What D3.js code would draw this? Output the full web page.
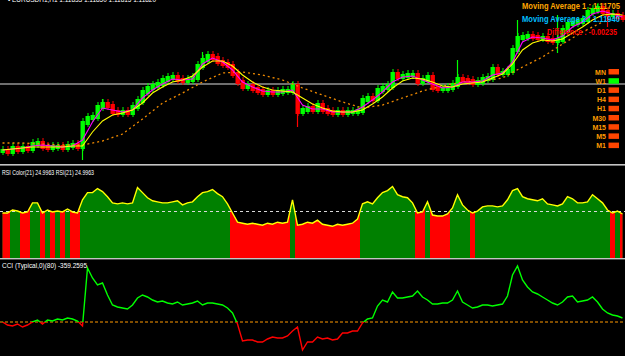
<!DOCTYPE html>
<html>
<head>
<meta charset="utf-8">
<script src="https://cdn.jsdelivr.net/npm/d3@7"></script>
<style>
    html, body { margin: 0; padding: 0; background: #000; overflow: hidden; }
    svg { display: block; }
    text { font-family: "Liberation Sans", Arial, sans-serif; }
</style>
</head>
<body>
<svg id="chart" width="625" height="356"></svg>
<script>
// closing price of each bar
var closes = [
    1.0948, 1.0946, 1.0954, 1.0950, 1.0954, 1.0952, 1.0962, 1.0964, 1.0956, 1.0954,
    1.0956, 1.0956, 1.0954, 1.0958, 1.0960, 1.0956, 1.1004, 1.1014, 1.1016, 1.1036,
    1.1042, 1.1038, 1.1026, 1.1024, 1.1026, 1.1024, 1.1036, 1.1048, 1.1066, 1.1074,
    1.1078, 1.1082, 1.1090, 1.1094, 1.1096, 1.1090, 1.1088, 1.1090, 1.1094, 1.1118,
    1.1130, 1.1138, 1.1134, 1.1126, 1.1122, 1.1118, 1.1102, 1.1086, 1.1076, 1.1078,
    1.1072, 1.1068, 1.1064, 1.1066, 1.1064, 1.1066, 1.1068, 1.1068, 1.1078, 1.1026,
    1.1030, 1.1034, 1.1030, 1.1040, 1.1030, 1.1026, 1.1024, 1.1026, 1.1024, 1.1026,
    1.1026, 1.1028, 1.1050, 1.1054, 1.1052, 1.1070, 1.1074, 1.1078, 1.1102, 1.1096,
    1.1098, 1.1100, 1.1100, 1.1086, 1.1090, 1.1096, 1.1074, 1.1072, 1.1072, 1.1074,
    1.1080, 1.1092, 1.1090, 1.1088, 1.1084, 1.1086, 1.1092, 1.1094, 1.1112, 1.1104,
    1.1104, 1.1108, 1.1150, 1.1174, 1.1176, 1.1178, 1.1176, 1.1174, 1.1174, 1.1170,
    1.1168, 1.1170, 1.1190, 1.1202, 1.1204, 1.1206, 1.1210, 1.1226, 1.1230, 1.1234,
    1.1226, 1.1220, 1.1220, 1.1216, 1.1214
];

// long wicks: [bar, price]
var spikes = [
    [16, 1.0930], [20, 1.1052], [40, 1.1146], [58, 1.1086], [59, 1.0996],
    [91, 1.1130], [103, 1.1210], [111, 1.1220], [111, 1.1144], [119, 1.1242], [121, 1.1196]
];

// moving averages (fast / slow every 2 bars, long every 4 bars)
var fastMa = [
    1.0950, 1.0952, 1.0954, 1.0958, 1.0960, 1.0958, 1.0956, 1.0958, 1.0970, 1.1006,
    1.1034, 1.1030, 1.1026, 1.1030, 1.1054, 1.1070, 1.1082, 1.1092, 1.1090, 1.1092,
    1.1122, 1.1134, 1.1126, 1.1110, 1.1086, 1.1076, 1.1068, 1.1066, 1.1066, 1.1070,
    1.1040, 1.1032, 1.1032, 1.1026, 1.1026, 1.1026, 1.1036, 1.1050, 1.1066, 1.1086,
    1.1096, 1.1098, 1.1090, 1.1082, 1.1074, 1.1076, 1.1086, 1.1086, 1.1088, 1.1100,
    1.1104, 1.1126, 1.1166, 1.1176, 1.1174, 1.1170, 1.1178, 1.1196, 1.1206, 1.1222,
    1.1228, 1.1222, 1.1216
];
var slowMa = [
    1.0950, 1.0952, 1.0954, 1.0956, 1.0956, 1.0956, 1.0956, 1.0958, 1.0958, 1.0986,
    1.1008, 1.1020, 1.1024, 1.1030, 1.1044, 1.1064, 1.1076, 1.1086, 1.1090, 1.1098,
    1.1116, 1.1128, 1.1128, 1.1118, 1.1100, 1.1086, 1.1076, 1.1070, 1.1068, 1.1066,
    1.1054, 1.1042, 1.1034, 1.1028, 1.1026, 1.1026, 1.1030, 1.1042, 1.1056, 1.1074,
    1.1088, 1.1094, 1.1092, 1.1086, 1.1078, 1.1076, 1.1082, 1.1084, 1.1086, 1.1094,
    1.1102, 1.1122, 1.1150, 1.1164, 1.1170, 1.1168, 1.1172, 1.1184, 1.1196, 1.1210,
    1.1220, 1.1222, 1.1220
];
var longMa = [
    1.0964, 1.0964, 1.0962, 1.0960, 1.0960, 1.0968, 1.0982, 1.1012, 1.1044, 1.1064,
    1.1086, 1.1104, 1.1106, 1.1100, 1.1090, 1.1074, 1.1060, 1.1046, 1.1034, 1.1040,
    1.1054, 1.1068, 1.1078, 1.1086, 1.1088, 1.1094, 1.1116, 1.1136, 1.1162, 1.1186,
    1.1206, 1.1220
];
var priceLevel = 1.1082;

var rsiValues = [
    48.4, 48.4, 51.6, 50.5, 48.4, 49.5, 59.3, 59.3, 48.4, 51.6,
    49.5, 50.5, 49.5, 52.7, 49.5, 48.4, 62.6, 70.3, 70.3, 74.7,
    71.4, 65.9, 59.3, 58.2, 59.3, 58.2, 59.3, 75.8, 70.3, 64.8,
    61.5, 60.4, 59.3, 59.3, 60.4, 61.5, 57.1, 59.3, 60.4, 65.9,
    70.3, 71.4, 73.6, 69.2, 65.9, 58.2, 48.4, 38.5, 37.4, 36.3,
    37.4, 36.3, 35.2, 37.4, 36.3, 38.5, 37.4, 38.5, 62.6, 35.2,
    36.3, 38.5, 37.4, 40.7, 36.3, 35.2, 34.1, 36.3, 35.2, 36.3,
    37.4, 41.8, 58.2, 60.4, 58.2, 64.8, 70.3, 72.5, 76.9, 68.1,
    65.9, 64.8, 59.3, 48.4, 49.5, 60.4, 46.2, 45.1, 45.1, 47.3,
    53.9, 68.1, 57.1, 51.6, 48.4, 50.5, 55.0, 56.0, 56.0, 55.0,
    56.0, 62.6, 72.5, 74.7, 65.9, 63.7, 62.6, 61.5, 63.7, 58.2,
    57.1, 56.0, 58.2, 65.9, 63.7, 59.3, 59.3, 60.4, 68.1, 63.7,
    59.3, 51.6, 48.4, 50.5, 47.3
];
var rsiLevel = 50;

var cciValues = [
    0, -15, -20, -10, -25, -15, 0, 10, -10, 10,
    5, 15, 10, 20, 15, 5, -20, 270, 220, 185,
    195, 135, 85, 75, 70, 65, 85, 120, 135, 125,
    110, 100, 105, 95, 90, 100, 85, 90, 95, 105,
    85, 95, 95, 90, 85, 70, 45, -10, -95, -90,
    -90, -100, -100, -85, -75, -80, -80, -70, -45, -25,
    -140, -100, -100, -75, -85, -80, -90, -85, -55, -55,
    -45, -45, -5, 15, 20, 80, 110, 100, 150, 120,
    120, 125, 130, 155, 125, 110, 90, 90, 95, 95,
    110, 155, 100, 85, 70, 75, 85, 85, 80, 85,
    90, 130, 235, 280, 210, 175, 150, 140, 125, 110,
    95, 85, 100, 125, 130, 100, 105, 110, 125, 100,
    65, 45, 35, 30, 20
];

var timeframes = ["MN", "W1", "D1", "H4", "H1", "M30", "M15", "M5", "M1"];
var activeFrame = "W1";

var headerText = "\u2022 EURUSDH1,H1  1.11833 1.11850 1.11815 1.11820";
var maLabels = ["Moving Average 1 : 1.11705", "Moving Average 2 : 1.11940", "Difference : -0.00235"];
var rsiTitle = "RSI Color(21) 24.9963  RSI(21) 24.9963";
var cciTitle = "CCI (Typical,0)(80) -359.2595";

(function () {
    "use strict";

    var W = 625;
    var svg = d3.select('#chart');
    var defs = svg.append('defs');

    var x = d3.scaleLinear().domain([0, closes.length - 1]).range([2.5, 622.5]);
    var y = d3.scaleLinear().domain([1.0922, 1.1250]).range([164, 0]);
    var yR = d3.scaleLinear().domain([0, 100]).range([258, 165]);
    var yC = d3.scaleLinear().domain([-175, 315]).range([357, 259]);

    var clip = function (id, x0, y0, w, h) {
        defs.append('clipPath').attr('id', id)
            .append('rect').attr('x', x0).attr('y', y0).attr('width', w).attr('height', h);
    };
    clip('main-clip', 0, 0, W, 164);
    clip('cci-up', 0, 259, W, yC(0) - 259);
    clip('cci-down', 0, yC(0), W, 357 - yC(0));

    // ---- main price panel
    var main = svg.append('g').attr('clip-path', 'url(#main-clip)');

    main.append('line')
        .attr('x1', 0).attr('x2', W)
        .attr('y1', y(priceLevel)).attr('y2', y(priceLevel))
        .attr('stroke', '#6e6e6e').attr('stroke-width', 2);

    var bars = closes.map(function (c, i) {
        var o = i > 0 ? closes[i - 1] : c;
        return {i: i, open: o, close: c, up: c >= o};
    });
    var barColor = function (d) { return d.up ? '#00ff00' : '#ff0000'; };

    main.append('g').selectAll('line')
        .data(spikes)
        .join('line')
        .attr('x1', function (d) { return x(d[0]); })
        .attr('x2', function (d) { return x(d[0]); })
        .attr('y1', function (d) { return y(closes[d[0]]); })
        .attr('y2', function (d) { return y(d[1]); })
        .attr('stroke', function (d) { return barColor(bars[d[0]]); })
        .attr('stroke-width', 1.2);

    // thin high-low stroke behind each body
    main.append('g').selectAll('line')
        .data(bars)
        .join('line')
        .attr('x1', function (d) { return x(d.i) + 0.5; })
        .attr('x2', function (d) { return x(d.i) + 0.5; })
        .attr('y1', function (d) { return y(Math.max(d.open, d.close)) - 5; })
        .attr('y2', function (d) { return y(Math.min(d.open, d.close)) + 4; })
        .attr('stroke', barColor)
        .attr('stroke-width', 1);

    main.append('g').selectAll('rect')
        .data(bars)
        .join('rect')
        .attr('x', function (d) { return x(d.i) - 2; })
        .attr('width', 4.4)
        .attr('y', function (d) { return y(Math.max(d.open, d.close)) - 2; })
        .attr('height', function (d) {
            return Math.abs(y(d.open) - y(d.close)) + 4;
        })
        .attr('fill', barColor);

    var maLine = function (values, step) {
        return d3.line()
            .x(function (d, i) { return x(i * step); })
            .y(function (d) { return y(d); })(values);
    };

    main.append('path')
        .attr('d', maLine(longMa, 4))
        .attr('fill', 'none')
        .attr('stroke', '#f08a00')
        .attr('stroke-width', 1.3)
        .attr('stroke-dasharray', '2,3');

    main.append('path')
        .attr('d', maLine(fastMa, 2))
        .attr('fill', 'none')
        .attr('stroke', '#ff00ff')
        .attr('stroke-width', 1.1);

    main.append('path')
        .attr('d', maLine(slowMa, 2))
        .attr('fill', 'none')
        .attr('stroke', '#ffff00')
        .attr('stroke-width', 1.1);

    main.append('text')
        .attr('x', 8).attr('y', 2)
        .attr('font-size', 8)
        .attr('fill', '#ffffff')
        .attr('textLength', 148)
        .attr('lengthAdjust', 'spacingAndGlyphs')
        .text(headerText);

    var labelColors = ['#ffa500', '#00bfff', '#ff0000'];
    var labelX = [522, 522, 547];
    var labelW = [98, 98, 70];
    svg.append('g').selectAll('text')
        .data(maLabels)
        .join('text')
        .attr('x', function (d, i) { return labelX[i]; })
        .attr('y', function (d, i) { return 9 + i * 13; })
        .attr('font-size', 8.5)
        .attr('font-weight', 'bold')
        .attr('fill', function (d, i) { return labelColors[i]; })
        .attr('textLength', function (d, i) { return labelW[i]; })
        .attr('lengthAdjust', 'spacingAndGlyphs')
        .text(function (d) { return d; });

    // timeframe boxes
    var tf = svg.append('g');
    timeframes.forEach(function (name, i) {
        var ty = 69 + i * 9.2;
        tf.append('text')
            .attr('x', 606).attr('y', ty + 5.5)
            .attr('text-anchor', 'end')
            .attr('font-size', 7)
            .attr('font-weight', 'bold')
            .attr('fill', '#ff9c00')
            .text(name);
        tf.append('rect')
            .attr('x', 608.5).attr('y', ty)
            .attr('width', 10.5).attr('height', 5.5)
            .attr('fill', name === activeFrame ? '#00ff00' : '#ff4500');
    });

    // separators
    svg.append('rect').attr('x', 0).attr('y', 164).attr('width', W).attr('height', 1.6).attr('fill', '#c4c4c4');
    svg.append('rect').attr('x', 0).attr('y', 258).attr('width', W).attr('height', 1.4).attr('fill', '#c4c4c4');

    // ---- RSI panel
    var rsi = svg.append('g');
    var rsiArea = d3.area()
        .x(function (d, i) { return x(i); })
        .y0(258)
        .y1(function (d) { return yR(d); });

    var redClip = defs.append('clipPath').attr('id', 'rsi-red');
    rsiValues.forEach(function (v, i) {
        if (v < rsiLevel) {
            redClip.append('rect')
                .attr('x', x(i) - 2.5).attr('y', 165)
                .attr('width', 5).attr('height', 93);
        }
    });

    rsi.append('path').attr('d', rsiArea(rsiValues)).attr('fill', '#008000');
    rsi.append('path').attr('d', rsiArea(rsiValues)).attr('fill', '#ff0000')
        .attr('clip-path', 'url(#rsi-red)');

    rsi.append('line')
        .attr('x1', 0).attr('x2', W)
        .attr('y1', yR(rsiLevel)).attr('y2', yR(rsiLevel))
        .attr('stroke', '#d8d8d8').attr('stroke-width', 1)
        .attr('stroke-dasharray', '3,3');

    rsi.append('path')
        .attr('d', d3.line().x(function (d, i) { return x(i); }).y(function (d) { return yR(d); })(rsiValues))
        .attr('fill', 'none')
        .attr('stroke', '#ffff00')
        .attr('stroke-width', 1.4);

    rsi.append('text')
        .attr('x', 2).attr('y', 175)
        .attr('font-size', 7.5)
        .attr('fill', '#ffffff')
        .attr('textLength', 92)
        .attr('lengthAdjust', 'spacingAndGlyphs')
        .text(rsiTitle);

    // ---- CCI panel
    var cci = svg.append('g');
    cci.append('line')
        .attr('x1', 0).attr('x2', W)
        .attr('y1', yC(0)).attr('y2', yC(0))
        .attr('stroke', '#ff9900').attr('stroke-width', 1)
        .attr('stroke-dasharray', '3,2');

    var cciPath = d3.line().x(function (d, i) { return x(i); }).y(function (d) { return yC(d); })(cciValues);
    cci.append('path').attr('d', cciPath)
        .attr('fill', 'none').attr('stroke', '#00ff00').attr('stroke-width', 1.4)
        .attr('clip-path', 'url(#cci-up)');
    cci.append('path').attr('d', cciPath)
        .attr('fill', 'none').attr('stroke', '#ff0000').attr('stroke-width', 1.4)
        .attr('clip-path', 'url(#cci-down)');

    cci.append('text')
        .attr('x', 2).attr('y', 268)
        .attr('font-size', 7.5)
        .attr('fill', '#ffffff')
        .attr('textLength', 85)
        .attr('lengthAdjust', 'spacingAndGlyphs')
        .text(cciTitle);
})();
</script>
</body>
</html>
